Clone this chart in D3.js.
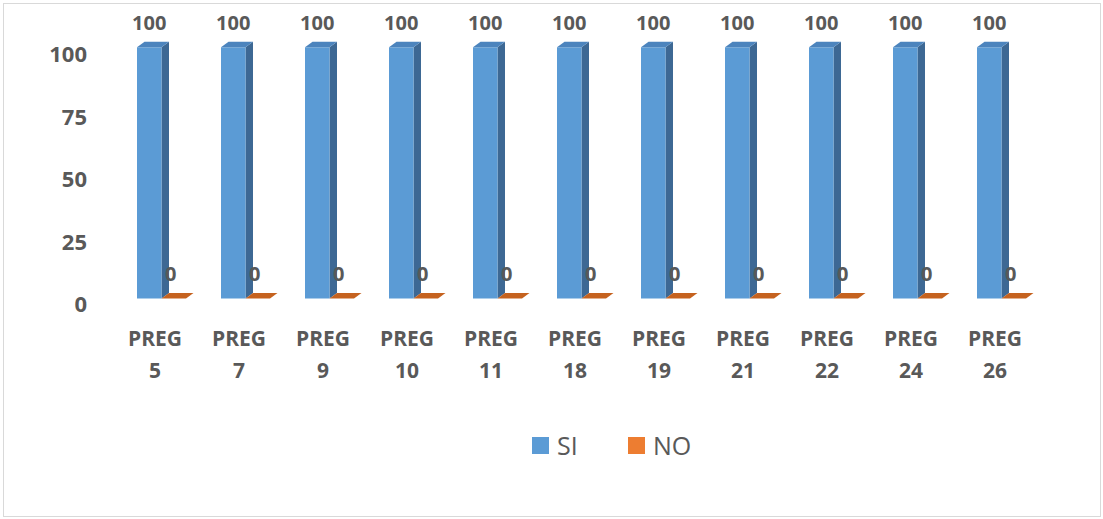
<!DOCTYPE html>
<html><head><meta charset="utf-8">
<script src="https://cdn.jsdelivr.net/npm/d3@7"></script>
<style>
html,body{margin:0;padding:0;background:#fff;}
svg{display:block;}
</style></head>
<body>
<script>
const categories = ["PREG 5","PREG 7","PREG 9","PREG 10","PREG 11","PREG 18","PREG 19","PREG 21","PREG 22","PREG 24","PREG 26"];
const seriesNames = ["SI","NO"];
const siValues = [100,100,100,100,100,100,100,100,100,100,100];
const noValues = [0,0,0,0,0,0,0,0,0,0,0];
const yTicks = [0,25,50,75,100];

const W = 1103, H = 519;
const FONT = "'Open Sans', 'Liberation Sans', sans-serif";
const TXT = "#595959";
const colors = {
  SI: {front:"#5B9BD5", side:"#3D6894", top:"#4C84BD"},
  NO: {front:"#ED7D31", side:"#B2541A", top:"#C5621F"}
};
const legendColors = {SI:"#5B9BD5", NO:"#ED7D31"};
const DX = 7.5, DY = -5.5;

const svg = d3.select("body").append("svg").attr("width",W).attr("height",H);
svg.append("rect").attr("x",3.5).attr("y",3.5).attr("width",1097).attr("height",513)
  .attr("fill","#fff").attr("stroke","#D9D9D9").attr("stroke-width",1);

const x0 = d3.scaleBand().domain(categories).range([113,1037]);
const x1 = d3.scaleBand().domain(seriesNames).range([24,73]);
const y = d3.scaleLinear().domain([0,100]).range([298.5,47.3]);
const yLab = d3.scaleLinear().domain([0,100]).range([304,54.5]);

const data = [];
categories.forEach((c,i)=>{
  data.push({cat:c, s:"SI", v:siValues[i]});
  data.push({cat:c, s:"NO", v:noValues[i]});
});

const g = svg.append("g");
data.forEach(d=>{
  const xl = x0(d.cat) + x1(d.s), w = x1.bandwidth();
  const yt = y(d.v), yb = y(0);
  const col = colors[d.s];
  // side
  if (yb - yt > 0) {
    g.append("polygon").attr("fill",col.side)
      .attr("points",[[xl+w,yt],[xl+w+DX,yt+DY],[xl+w+DX,yb+DY],[xl+w,yb]].map(p=>p.join(",")).join(" "));
    g.append("rect").attr("x",xl).attr("y",yt).attr("width",w).attr("height",yb-yt).attr("fill",col.front);
  }
  // top
  g.append("polygon").attr("fill",col.top)
    .attr("points",[[xl,yt],[xl+DX,yt+DY],[xl+w+DX,yt+DY],[xl+w,yt]].map(p=>p.join(",")).join(" "));
});

// value labels
data.forEach(d=>{
  const xl = x0(d.cat) + x1(d.s), w = x1.bandwidth();
  const cx = d.s === "SI" ? xl + w/2 : xl + w/2 - 3;
  svg.append("text").attr("x",cx).attr("y",y(d.v)-25).attr("dy","0.36em")
    .attr("text-anchor","middle").attr("font-family",FONT).attr("font-weight",700)
    .attr("font-size",20).attr("fill",TXT).text(d.v);
});

// y tick labels
yTicks.forEach(t=>{
  svg.append("text").attr("x",87).attr("y",yLab(t)).attr("dy","0.36em")
    .attr("text-anchor","end").attr("font-family",FONT).attr("font-weight",700)
    .attr("font-size",22).attr("fill",TXT).text(t);
});

// x labels
categories.forEach(c=>{
  const cx = x0(c) + x0.bandwidth()/2;
  const parts = c.split(" ");
  parts.forEach((p,j)=>{
    svg.append("text").attr("x",cx).attr("y",338 + j*32).attr("dy","0.36em")
      .attr("text-anchor","middle").attr("font-family",FONT).attr("font-weight",700)
      .attr("font-size",21).attr("fill",TXT).text(p);
  });
});

// legend
const legendX = {SI:532, NO:628};
seriesNames.forEach(s=>{
  svg.append("rect").attr("x",legendX[s]).attr("y",437).attr("width",17).attr("height",17).attr("fill",legendColors[s]);
  svg.append("text").attr("x",legendX[s]+25).attr("y",445.5).attr("dy","0.36em")
    .attr("font-family",FONT).attr("font-size",25).attr("fill",TXT).text(s);
});
</script>
</body></html>
